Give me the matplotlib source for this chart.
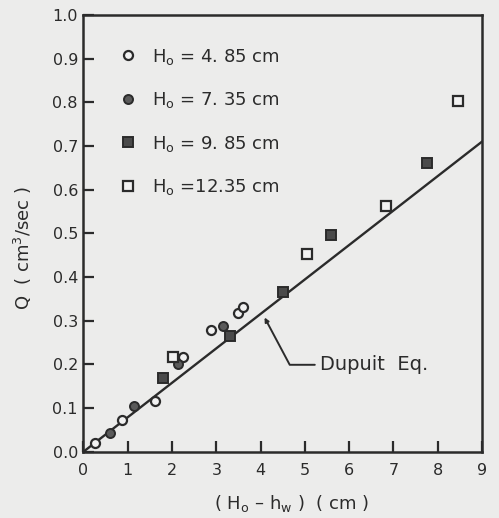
import matplotlib
matplotlib.use("Agg")
import matplotlib.pyplot as plt
import numpy as np

plt.rcParams['font.family'] = ['DejaVu Sans']
plt.rcParams['mathtext.fontset'] = 'dejavusans'

# Data
x_h485 = [0.26, 0.86, 1.61, 2.25, 2.87, 3.49, 3.61]
q_h485 = [0.020, 0.073, 0.115, 0.217, 0.279, 0.318, 0.332]

x_h735 = [0.60, 1.15, 2.14, 3.16]
q_h735 = [0.042, 0.105, 0.200, 0.288]

x_h985 = [1.80, 3.31, 4.51, 5.60, 7.75]
q_h985 = [0.168, 0.265, 0.366, 0.496, 0.660]

x_h1235 = [2.03, 5.05, 6.83, 8.46]
q_h1235 = [0.217, 0.453, 0.563, 0.803]

dupuit_x = [0.0, 9.0]
dupuit_q = [0.0, 0.71]

labels = ["H$_\\mathrm{o}$ = 4. 85 cm", "H$_\\mathrm{o}$ = 7. 35 cm",
          "H$_\\mathrm{o}$ = 9. 85 cm", "H$_\\mathrm{o}$ =12.35 cm"]
xticks = list(range(0, 10))
yticks = [round(0.1 * i, 1) for i in range(0, 11)]

ink = '#2b2b2b'
bg = '#ececeb'

fig = plt.figure(figsize=(4.99, 5.18), dpi=100, facecolor=bg)
ax = fig.add_axes([0.1673, 0.128, 0.7986, 0.843], facecolor=bg)

ax.plot(dupuit_x, dupuit_q, color=ink, lw=1.7, zorder=2)

ms = 6.5
h1, = ax.plot(x_h485, q_h485, 'o', ms=ms, mfc='#f2f2f2', mec=ink, mew=1.6, ls='none', zorder=3)
h2, = ax.plot(x_h735, q_h735, 'o', ms=ms, mfc='#5a5a5a', mec=ink, mew=1.4, ls='none', zorder=3)
h3, = ax.plot(x_h985, q_h985, 's', ms=ms, mfc='#4a4a4a', mec=ink, mew=1.4, ls='none', zorder=3)
h4, = ax.plot(x_h1235, q_h1235, 's', ms=ms, mfc='#f2f2f2', mec=ink, mew=1.6, ls='none', zorder=3)

leg = ax.legend([h1, h2, h3, h4], labels, loc='upper left',
                bbox_to_anchor=(0.048, 0.965), frameon=False, fontsize=13,
                handlelength=1.0, handletextpad=0.85, labelspacing=1.3,
                labelcolor=ink)

ax.annotate('Dupuit  Eq.', xy=(4.06, 0.313), xytext=(5.35, 0.199),
            fontsize=14, color=ink, va='center', ha='left',
            arrowprops=dict(arrowstyle='-|>', color=ink, lw=1.4,
                            mutation_scale=6, shrinkA=2, shrinkB=2,
                            relpos=(0, 0.5),
                            connectionstyle='angle,angleA=0,angleB=-62,rad=0'))

ax.set_xlim(0, 9)
ax.set_ylim(0, 1.0)
ax.set_xticks(xticks)
ax.set_yticks(yticks)
ax.set_xticklabels([str(v) for v in xticks])
ax.set_yticklabels([f"{v:.1f}" for v in yticks])
ax.tick_params(axis='both', direction='in', length=8, width=1.6, colors=ink,
               labelsize=11.5, pad=4)
ax.tick_params(axis='x', pad=8)
for s in ax.spines.values():
    s.set_linewidth(1.8)
    s.set_color(ink)

ax.set_ylabel("Q  ( cm$^3$/sec )", fontsize=13, color=ink)
ax.yaxis.set_label_coords(-0.125, 0.466)
ax.set_xlabel("( H$_\\mathrm{o}$ \u2013 h$_\\mathrm{w}$ )  ( cm )", fontsize=13, color=ink,
              va='center')
ax.xaxis.set_label_coords(0.522, -0.118)

fig.savefig("out.png", dpi=100, facecolor=bg)
